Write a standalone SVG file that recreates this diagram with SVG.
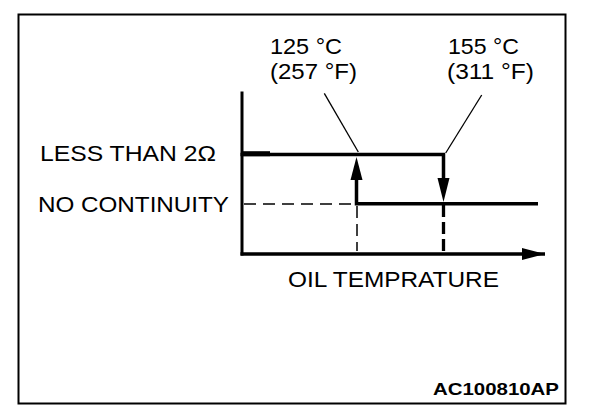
<svg xmlns="http://www.w3.org/2000/svg" width="608" height="420" viewBox="0 0 608 420">
<style>
.t{font-family:"Liberation Sans",Arial,sans-serif;font-size:22.5px;fill:#000}
.b{font-family:"Liberation Sans",Arial,sans-serif;font-size:17px;font-weight:bold;fill:#000}
.thick{stroke:#000;stroke-width:3.5;fill:none}
.thin{stroke:#000;stroke-width:1.3;fill:none}
</style>
<defs>
<marker id="ah" markerUnits="userSpaceOnUse" markerWidth="24" markerHeight="12" refX="23" refY="6" orient="auto">
<path d="M0,0 L23,6 L0,12 Z" fill="#000"/>
</marker>
</defs>
<rect x="0" y="0" width="608" height="420" fill="#fff"/>
<rect x="18.5" y="14.5" width="547" height="389" fill="none" stroke="#000" stroke-width="2"/>
<g id="axes">
<line x1="242" y1="91.5" x2="242" y2="255.5" stroke="#000" stroke-width="3"/>
<line x1="240.5" y1="254" x2="545" y2="254" stroke="#000" stroke-width="3.5" marker-end="url(#ah)"/>
</g>
<g id="connectors">
<path class="thick" d="M240.5,154.5 H443.5 V180"/>
<line x1="242" y1="153.7" x2="270" y2="153.7" stroke="#000" stroke-width="5"/>
<polygon points="437.5,178 449.5,178 443.5,202" fill="#000"/>
<path class="thick" d="M538,203.7 H356.5 V178"/>
<polygon points="350.5,180 362.5,180 356.5,157" fill="#000"/>
<line x1="244" y1="204" x2="352" y2="204" stroke="#000" stroke-width="1.5" stroke-dasharray="12 7"/>
<line x1="357" y1="206" x2="357" y2="251" stroke="#000" stroke-width="1.5" stroke-dasharray="12 6"/>
<line x1="443.5" y1="205" x2="443.5" y2="251" stroke="#000" stroke-width="3.3" stroke-dasharray="12 5"/>
<line class="thin" x1="324.3" y1="93.3" x2="358.3" y2="152"/>
<line class="thin" x1="481.7" y1="95" x2="445.7" y2="153"/>
</g>
<g id="labels">
<text class="t" x="270" y="54" textLength="72" lengthAdjust="spacingAndGlyphs">125 °C</text>
<text class="t" x="270" y="79" textLength="87" lengthAdjust="spacingAndGlyphs">(257 °F)</text>
<text class="t" x="448" y="54" textLength="71" lengthAdjust="spacingAndGlyphs">155 °C</text>
<text class="t" x="447" y="79" textLength="87" lengthAdjust="spacingAndGlyphs">(311 °F)</text>
<text class="t" x="40" y="161" textLength="176" lengthAdjust="spacingAndGlyphs">LESS THAN 2Ω</text>
<text class="t" x="38" y="212" textLength="191" lengthAdjust="spacingAndGlyphs">NO CONTINUITY</text>
<text class="t" x="288" y="287" textLength="211" lengthAdjust="spacingAndGlyphs">OIL TEMPRATURE</text>
<text class="b" x="433" y="395" textLength="126" lengthAdjust="spacingAndGlyphs">AC100810AP</text>
</g>
</svg>
